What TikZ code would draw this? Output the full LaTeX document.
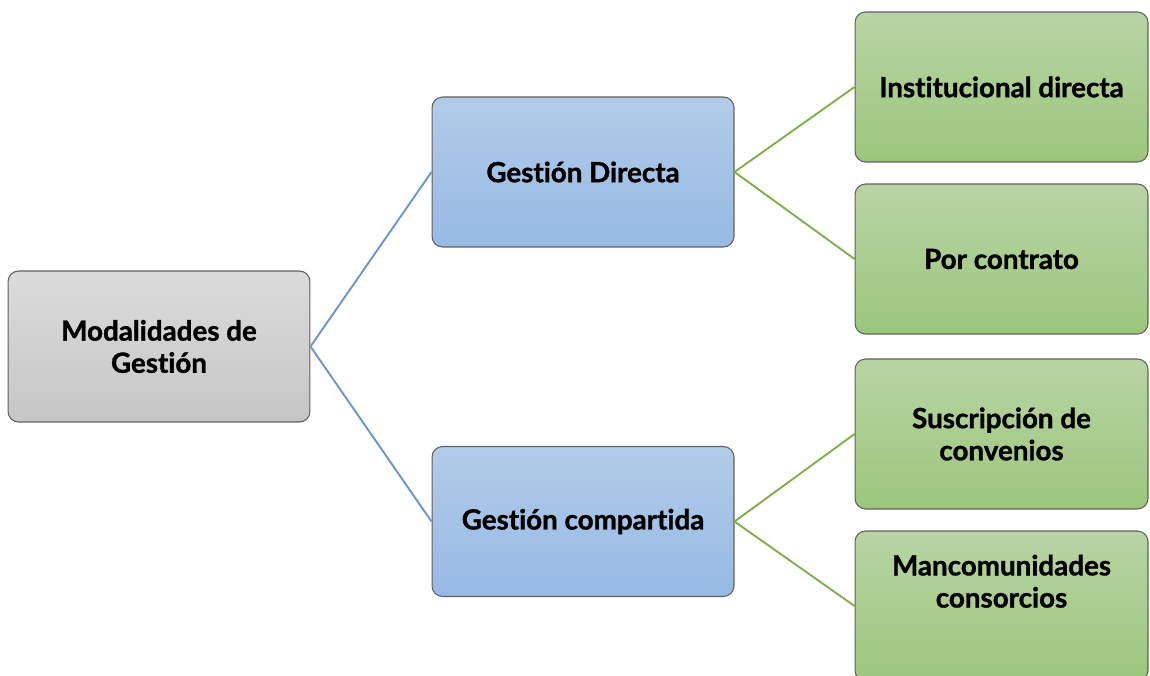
\documentclass[tikz,border=0pt]{standalone}
\usepackage{fontspec}
\setmainfont{Lato}[Ligatures=NoCommon, BoldFeatures={FakeBold=1.2}]
\usepackage{tikz}
\usetikzlibrary{positioning}

\definecolor{grayline}{RGB}{95,95,95}
\definecolor{blueline}{RGB}{110,150,200}
\definecolor{greenline}{RGB}{130,175,80}

\begin{document}
\begin{tikzpicture}[
  x=0.02cm, y=-0.02cm,
  font=\fontsize{15.8}{18.3}\selectfont\bfseries,
  base/.style={draw=grayline, rounded corners=6pt, align=center, line width=0.6pt},
  root/.style={base, minimum width=6.04cm, minimum height=3.02cm, top color=gray!28, bottom color=gray!45},
  mode/.style={base, minimum width=6.04cm, minimum height=3cm, top color={rgb,255:red,178;green,203;blue,232}, bottom color={rgb,255:red,150;green,186;blue,228}},
  leaf/.style={base, minimum width=5.86cm, minimum height=3cm, top color={rgb,255:red,184;green,212;blue,164}, bottom color={rgb,255:red,156;green,198;blue,124}},
  blink/.style={blueline, line width=1.1pt},
  glink/.style={greenline, line width=1.1pt}
]
\useasboundingbox (0,0) rectangle (1150,676);
\node[root] (modal) at (159,346.5) {Modalidades de\\Gestión};
\node[mode] (directa) at (583,172) {Gestión Directa};
\node[mode] (compartida) at (583,521.5) {Gestión compartida};
\node[leaf] (inst) at (1001.5,87) {Institucional directa};
\node[leaf] (contrato) at (1001.5,259) {Por contrato};
\node[leaf] (convenios) at (1001.5,434) {Suscripción de\\convenios};
\node[leaf] (mancom) at (1001.5,606) {Mancomunidades\\consorcios\\[10pt]};
\draw[blink] (modal.east) -- (directa.west);
\draw[blink] (modal.east) -- (compartida.west);
\draw[glink] (directa.east) -- (inst.west);
\draw[glink] (directa.east) -- (contrato.west);
\draw[glink] (compartida.east) -- (convenios.west);
\draw[glink] (compartida.east) -- (mancom.west);
\end{tikzpicture}
\end{document}
